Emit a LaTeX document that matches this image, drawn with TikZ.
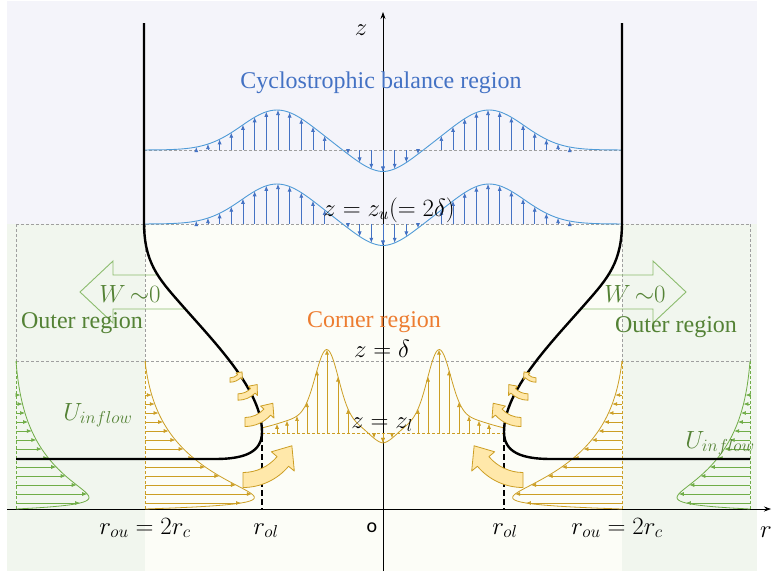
\documentclass[tikz,border=0pt]{standalone}
\usepackage{fontspec}
\setmainfont{Liberation Serif}
\newfontfamily\calib{Carlito}
\usetikzlibrary{arrows.meta}
\definecolor{lav}{RGB}{244,244,250}
\definecolor{crm}{RGB}{252,253,247}
\definecolor{lgr}{RGB}{241,246,238}
\definecolor{cblue}{RGB}{68,114,196}
\definecolor{lblue}{RGB}{80,155,215}
\definecolor{corange}{RGB}{237,125,49}
\definecolor{dgreen}{RGB}{84,130,53}
\definecolor{mgreen}{RGB}{112,173,71}
\definecolor{agreen}{RGB}{140,188,110}
\definecolor{gold}{RGB}{204,158,36}
\definecolor{lyel}{RGB}{255,232,170}
\tikzset{
  gdash/.style={draw=gray!75, line width=0.6pt, dash pattern=on 3pt off 2pt},
  odash/.style={draw=gold, line width=0.6pt, dash pattern=on 3pt off 2pt},
  grdash/.style={draw=mgreen, line width=0.6pt, dash pattern=on 3pt off 2pt},
  axisline/.style={draw=black, line width=0.7pt, -{Stealth[length=7pt,width=5pt]}},
  bcurve/.style={draw=lblue, line width=0.9pt},
  barr/.style={draw=cblue, line width=0.7pt, -{Latex[length=5pt,width=4pt]}},
  ocurve/.style={draw=gold, line width=0.8pt},
  oarr/.style={draw=gold, line width=0.7pt, -{Latex[length=5pt,width=4pt]}},
  gcurve/.style={draw=mgreen, line width=0.8pt},
  grarr/.style={draw=mgreen, line width=0.7pt, -{Latex[length=5pt,width=4pt]}},
  wall/.style={draw=black, line width=2.4pt},
  oldash/.style={draw=black, line width=2pt, dash pattern=on 6pt off 3pt},
  warr/.style={draw=agreen, line width=0.9pt, line join=miter},
  carr/.style={draw=gold, line width=0.8pt, fill=lyel, line join=round},
  reglab/.style={font=\fontsize{24}{24}\selectfont, anchor=base, inner sep=0pt},
  mathlab/.style={font=\fontsize{23}{23}\selectfont, anchor=base, inner sep=0pt},
}
\newcommand{\curvearr}[8]{%
  \pgfmathsetmacro{\cAro}{#3+#4}\pgfmathsetmacro{\cAri}{#3-#4}%
  \pgfmathsetmacro{\cAho}{#3+#8}\pgfmathsetmacro{\cAhi}{#3-#8}%
  \filldraw[carr,shift={(#1,#2)}] (#5:\cAro) arc[start angle=#5,end angle=#6,radius=\cAro]
    -- (#6:\cAho) -- (#7:#3) -- (#6:\cAhi) -- (#6:\cAri)
    arc[start angle=#6,end angle=#5,radius=\cAri] -- cycle;}
\begin{document}
\begin{tikzpicture}[x=1pt,y=-1pt,
  declare function={
    bl(\s)=40*exp(-((\s-106)/50)*((\s-106)/50))-22*exp(-(\s/38)*(\s/38));
    cr(\s)=66*exp(-((\s-56)/16)*((\s-56)/16))+18*exp(-((\s-65)/50)*((\s-65)/50))-13.3*exp(-(\s/18)*(\s/18));
    ui(\h)=157*(1-exp(-\h/5))*exp(-\h/45)*(1-(\h/148)*(\h/148)*(\h/148));
  }]
\useasboundingbox (0,0) rectangle (773,571);
% backgrounds
\fill[white] (0,0) rectangle (773,571);
\fill[lav] (7,1) rectangle (757,224);
\fill[crm] (145,224) rectangle (622,571);
\fill[lgr] (7,224) rectangle (145,571);
\fill[lgr] (622,224) rectangle (757,571);
% grey dashed guide lines
\draw[gdash] (144,150) -- (622,150);
\draw[gdash] (16,224) -- (750,224);
\draw[gdash] (16,361) -- (750,361);
\draw[gdash] (16,224) -- (16,361);
\draw[gdash] (145,224) -- (145,361);
\draw[gdash] (622,224) -- (622,361);
\draw[gdash] (750,224) -- (750,361);
\draw[odash] (145,361) -- (145,509);
\draw[odash] (622,361) -- (622,509);
\draw[grdash] (16,361) -- (16,509);
\draw[grdash] (750,361) -- (750,509);
\draw[odash] (262,433) -- (504,433);
% axes
\coordinate (zb) at (383,571);
\coordinate (zt) at (383,12);
\coordinate (rl) at (7,509);
\coordinate (rr) at (771,509);
\draw[axisline] (zb) -- (zt);
\draw[axisline] (rl) -- (rr);
% blue profiles
\foreach \b in {150,224}{
  \draw[bcurve] plot[domain=144:622,samples=160] (\x,{\b-bl(abs(\x-383))});
  \foreach \k in {0,1,2,3,5,6,...,16}{
    \pgfmathsetmacro{\ss}{\k*11.67}
    \pgfmathsetmacro{\hh}{bl(\ss)}
    \draw[barr] ({383-\ss},\b) -- ({383-\ss},{\b-\hh});
    \draw[barr] ({383+\ss},\b) -- ({383+\ss},{\b-\hh});
  }
}
% corner profile
\draw[ocurve] plot[domain=262:504,samples=200] (\x,{433-cr(abs(\x-383))});
\foreach \ss in {0,9,35,45,56,66,76,86,96,106}{
  \pgfmathsetmacro{\hh}{cr(\ss)}
  \draw[oarr] ({383-\ss},433) -- ({383-\ss},{433-\hh});
  \draw[oarr] ({383+\ss},433) -- ({383+\ss},{433-\hh});
}
% inflow profiles
\draw[ocurve] plot[domain=0:148,samples=150] ({145+ui(\x)},{509-\x});
\draw[ocurve] plot[domain=0:148,samples=150] ({622-ui(\x)},{509-\x});
\draw[gcurve] plot[domain=0:148,samples=150] ({16+0.667*ui(\x)},{509-\x});
\draw[gcurve] plot[domain=0:148,samples=150] ({750-0.667*ui(\x)},{509-\x});
\foreach \k in {0,...,12}{
  \pgfmathsetmacro{\hh}{6+9*\k}
  \pgfmathsetmacro{\uu}{ui(\hh)}
  \draw[oarr] (145,{509-\hh}) -- ({145+\uu},{509-\hh});
  \draw[oarr] (622,{509-\hh}) -- ({622-\uu},{509-\hh});
  \draw[grarr] (16,{509-\hh}) -- ({16+0.667*\uu},{509-\hh});
  \draw[grarr] (750,{509-\hh}) -- ({750-0.667*\uu},{509-\hh});
}
% green outline block arrows
\draw[warr] (158,275) -- (113,275) -- (113,261) -- (80,292) -- (113,323) -- (113,309) -- (186,309);
\draw[warr] (608,275) -- (653,275) -- (653,261) -- (686,292) -- (653,323) -- (653,309) -- (580,309);
% walls
\draw[wall] (144,23) -- (144,222) .. controls (144,262) and (158,278) .. (180,303)
  .. controls (215,343) and (262,390) .. (262,432)
  .. controls (262,452) and (245,459) .. (215,459) -- (16,459);
\draw[wall] (622,23) -- (622,222) .. controls (622,262) and (608,278) .. (586,303)
  .. controls (551,343) and (504,390) .. (504,432)
  .. controls (504,452) and (521,459) .. (551,459) -- (750,459);
% r_ol dashed
\coordinate (olL) at (262,436);
\coordinate (olLb) at (262,509);
\coordinate (olR) at (504,436);
\coordinate (olRb) at (504,509);
\draw[oldash] (olL) -- (olLb);
\draw[oldash] (olR) -- (olRb);
% curved yellow arrows
\curvearr{243}{428}{52}{7.5}{90}{40}{20}{15}
\curvearr{245}{392}{30}{4.5}{90}{42}{22}{9}
\curvearr{238}{376}{21}{3.2}{90}{45}{24}{6.5}
\curvearr{230}{367}{13}{2.2}{90}{45}{22}{4.5}
\curvearr{523}{428}{52}{7.5}{90}{140}{160}{15}
\curvearr{521}{392}{30}{4.5}{90}{138}{158}{9}
\curvearr{528}{376}{21}{3.2}{90}{135}{156}{6.5}
\curvearr{536}{367}{13}{2.2}{90}{135}{158}{4.5}
% labels
\node[reglab, text=cblue] (cyc) at (381,88) {Cyclostrophic balance region};
\node[reglab, text=corange] (cor) at (374,327) {Corner region};
\node[reglab, text=dgreen] (outL) at (82,328) {Outer region};
\node[reglab, text=dgreen] (outR) at (676,332) {Outer region};
\node[mathlab, text=dgreen] (wL) at (130,302) {$W\,{\sim}0$};
\node[mathlab, text=dgreen] (wR) at (635,302) {$W\,{\sim}0$};
\node[mathlab, text=dgreen] (uL) at (98,420) {$U_{inflow}$};
\node[mathlab, text=dgreen] (uR) at (720,448) {$U_{inflow}$};
\node[mathlab] (zu) at (389,216) {$z=z_u(=2\delta)$};
\node[mathlab] (zd) at (382,357) {$z=\delta$};
\node[mathlab] (zl) at (382,428) {$z=z_l$};
\node[mathlab] (zlab) at (361,35) {$z$};
\node[mathlab] (rlab) at (766,537) {$r$};
\node[mathlab] (rouL) at (145,534) {$r_{ou}=2r_c$};
\node[mathlab] (rouR) at (617,534) {$r_{ou}=2r_c$};
\node[mathlab] (rolL) at (266,534) {$r_{ol}$};
\node[mathlab] (rolR) at (505,534) {$r_{ol}$};
\node[anchor=base, inner sep=0pt, font=\calib\fontsize{20}{20}\selectfont] (orig) at (372,532) {o};
\end{tikzpicture}
\end{document}
